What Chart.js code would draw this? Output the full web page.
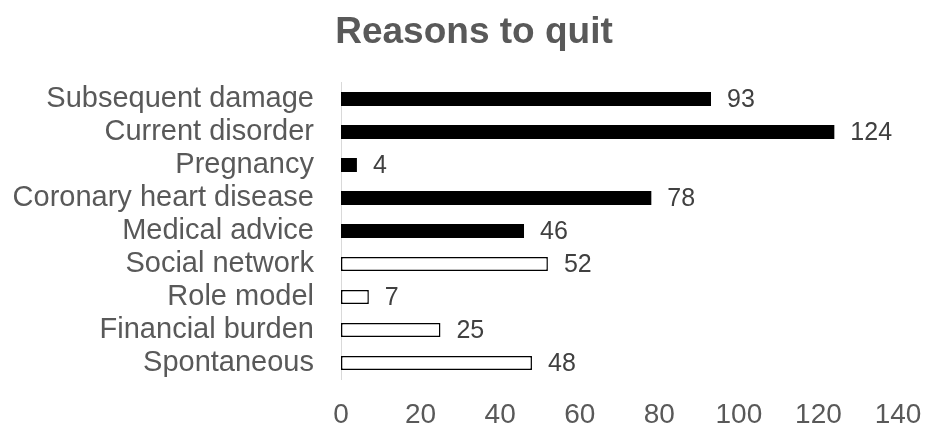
<!DOCTYPE html>
<html>
<head>
<meta charset="utf-8">
<script src="https://cdn.jsdelivr.net/npm/chart.js@4"></script>
<style>
    html, body { margin: 0; padding: 0; background: #fff; }
    #wrap { width: 926px; height: 425px; }
</style>
</head>
<body>
<div id="wrap"><canvas id="reasonsChart"></canvas></div>
<script>
// data
let reasons = ['Subsequent damage', 'Current disorder', 'Pregnancy', 'Coronary heart disease',
    'Medical advice', 'Social network', 'Role model', 'Financial burden', 'Spontaneous']
let counts = [93, 124, 4, 78, 46, 52, 7, 25, 48]
let reasonType = ['medical', 'medical', 'medical', 'medical', 'medical', 'other', 'other', 'other', 'other']
let xTicks = [0, 20, 40, 60, 80, 100, 120, 140]

let fontFamily = '"Liberation Sans", Arial, sans-serif'
let grey = '#595959'

// value labels right of each bar
let valueLabels = {
    id: 'valueLabels',
    afterDatasetsDraw(chart) {
        let ctx = chart.ctx
        let meta = chart.getDatasetMeta(0)
        ctx.save()
        ctx.font = '25px ' + fontFamily
        ctx.fillStyle = '#404040'
        ctx.textAlign = 'left'
        ctx.textBaseline = 'middle'
        meta.data.forEach((bar, i) => {
            ctx.fillText(counts[i], bar.x + 16, bar.y + 1)
        })
        ctx.restore()
    }
}

// title, centred a bit right of the canvas middle like the original
let chartTitle = {
    id: 'chartTitle',
    afterDraw(chart) {
        let ctx = chart.ctx
        ctx.save()
        ctx.font = 'bold 37px ' + fontFamily
        ctx.fillStyle = grey
        ctx.textAlign = 'center'
        ctx.textBaseline = 'alphabetic'
        ctx.fillText('Reasons to quit', 474, 43)
        ctx.restore()
    }
}

let ctx = document.querySelector('#reasonsChart').getContext('2d')

let reasonsChart = new Chart(ctx, {
    type: 'bar',
    data: {
        labels: reasons,
        datasets: [
            {
                label: 'Reasons to quit',
                data: counts,
                backgroundColor: reasonType.map(t => t === 'medical' ? '#000000' : '#ffffff'),
                borderColor: '#000000',
                borderWidth: reasonType.map(t => t === 'medical' ? 0 : 1.5),
                borderSkipped: false,
                categoryPercentage: 1,
                barPercentage: 0.42
            }
        ]
    },
    options: {
        indexAxis: 'y',
        responsive: true,
        maintainAspectRatio: false,
        animation: false,
        layout: {
            padding: { top: 82.5, right: 28, bottom: 0, left: 0 }
        },
        scales: {
            x: {
                min: 0,
                max: 140,
                afterBuildTicks: scale => {
                    scale.ticks = xTicks.map(v => ({ value: v }))
                },
                afterFit: scale => {
                    scale.height = 45.5
                    scale.paddingLeft = 0
                    scale.paddingRight = 0
                },
                grid: { display: false, drawTicks: false },
                border: { display: false },
                ticks: {
                    padding: 19,
                    maxRotation: 0,
                    color: grey,
                    font: { family: fontFamily, size: 28 }
                }
            },
            y: {
                afterFit: scale => { scale.width = 341 },
                grid: { display: false, drawTicks: false },
                border: { display: true, color: '#d9d9d9', width: 1 },
                ticks: {
                    padding: 27,
                    autoSkip: false,
                    color: grey,
                    font: { family: fontFamily, size: 29 }
                }
            }
        },
        plugins: {
            legend: { display: false },
            title: { display: false },
            tooltip: { enabled: false }
        }
    },
    plugins: [valueLabels, chartTitle]
})
</script>
</body>
</html>
